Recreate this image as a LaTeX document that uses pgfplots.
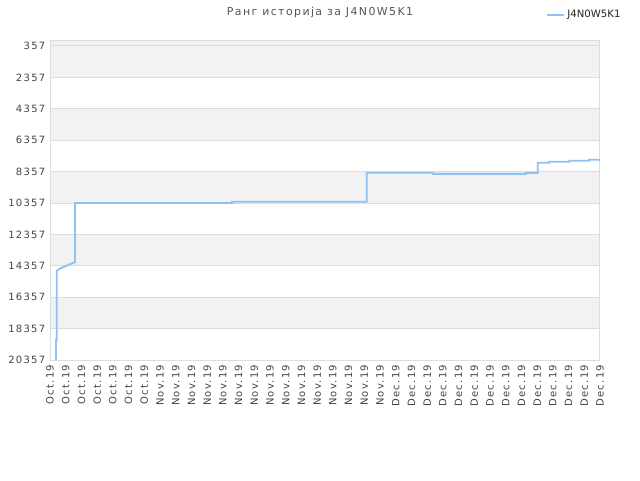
\documentclass[border=0pt]{standalone}
\usepackage{fontspec}
\setmainfont{DejaVu Sans}[LetterSpace=13]
\usepackage{pgfplots}
\pgfplotsset{compat=1.18}
\pgfplotsset{shortline/.style={legend image code/.code={\draw[##1] (0pt,0pt) -- (7pt,0pt); \path (0pt,0pt) -- (12.5pt,0pt);}}}
\definecolor{linec}{HTML}{90C1F2}
\definecolor{bandc}{HTML}{F2F2F2}
\definecolor{gridc}{HTML}{DDDDDD}
\definecolor{tickc}{HTML}{444444}
\definecolor{titlec}{HTML}{555555}
\pgfplotstableread{
x y
0.38 20357
0.38 19085
0.43 19085
0.43 14690
0.57 14560
1.59 14120
1.59 10357
11.58 10357
11.58 10274
20.16 10274
20.16 8430
24.36 8430
24.36 8500
30.28 8500
30.28 8440
31.04 8440
31.04 7790
31.76 7790
31.76 7727
33.04 7727
33.04 7663
34.31 7663
34.31 7600
35.00 7600
}\rankdata
\begin{document}
\begin{tikzpicture}
\path (0pt,0pt) rectangle (480pt,360pt);
\node[text=titlec, font=\fontsize{8.2}{10}\selectfont] at (240pt,350.5pt) {Ранг историја за J4N0W5K1};
\begin{axis}[
  at={(37.5pt,90pt)}, anchor=south west,
  scale only axis, width=412.5pt, height=240pt,
  set layers,
  xmin=0, xmax=35, ymin=-25, ymax=20357,
  y dir=reverse,
  scaled y ticks=false,
  ytick={357,2357,4357,6357,8357,10357,12357,14357,16357,18357,20357},
  yticklabels={357,2357,4357,6357,8357,10357,12357,14357,16357,18357,20357},
  xtick={0,...,35},
  xticklabels={Oct.19,Oct.19,Oct.19,Oct.19,Oct.19,Oct.19,Oct.19,Nov.19,Nov.19,Nov.19,Nov.19,Nov.19,Nov.19,Nov.19,Nov.19,Nov.19,Nov.19,Nov.19,Nov.19,Nov.19,Nov.19,Nov.19,Dec.19,Dec.19,Dec.19,Dec.19,Dec.19,Dec.19,Dec.19,Dec.19,Dec.19,Dec.19,Dec.19,Dec.19,Dec.19,Dec.19},
  x tick label style={rotate=90, anchor=east, font=\fontsize{7.5}{9}\selectfont, text=tickc},
  y tick label style={font=\fontsize{7.5}{9}\selectfont, text=tickc},
  /pgf/number format/assume math mode=true,
  major tick length=0pt,
  xtick pos=bottom, ytick pos=left,
  ymajorgrids, major grid style={gridc, line width=0.75pt},
  axis line style={gridc, line width=0.75pt},
  legend style={at={(0.9018,1.078)}, anchor=west, draw=none, fill=none,
    font=\fontsize{7.6}{9}\selectfont\addfontfeature{LetterSpace=0}, text=black!85, inner sep=0pt},
]
\addplot[fill=bandc, draw=none, on layer=axis background, forget plot] coordinates {(0,-25) (35,-25) (35,2357) (0,2357)} \closedcycle;
\addplot[fill=bandc, draw=none, on layer=axis background, forget plot] coordinates {(0,4357) (35,4357) (35,6357) (0,6357)} \closedcycle;
\addplot[fill=bandc, draw=none, on layer=axis background, forget plot] coordinates {(0,8357) (35,8357) (35,10357) (0,10357)} \closedcycle;
\addplot[fill=bandc, draw=none, on layer=axis background, forget plot] coordinates {(0,12357) (35,12357) (35,14357) (0,14357)} \closedcycle;
\addplot[fill=bandc, draw=none, on layer=axis background, forget plot] coordinates {(0,16357) (35,16357) (35,18357) (0,18357)} \closedcycle;
\addplot[linec, line width=1.4pt, no marks, line join=miter, shortline] table {\rankdata};
\addlegendentry{J4N0W5K1}
\end{axis}
\end{tikzpicture}
\end{document}
